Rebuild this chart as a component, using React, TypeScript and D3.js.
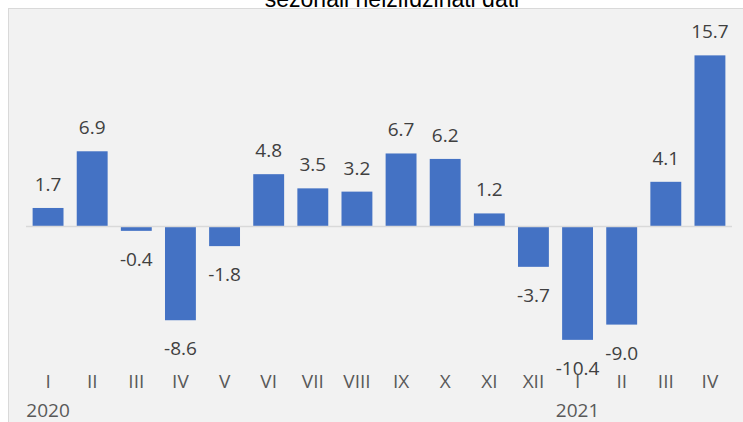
import { useEffect } from 'react';
import * as d3 from 'd3';

const months = ['I', 'II', 'III', 'IV', 'V', 'VI', 'VII', 'VIII', 'IX', 'X', 'XI', 'XII', 'I', 'II', 'III', 'IV'];
const values = [1.7, 6.9, -0.4, -8.6, -1.8, 4.8, 3.5, 3.2, 6.7, 6.2, 1.2, -3.7, -10.4, -9.0, 4.1, 15.7];
const years = [
  { label: '2020', index: 0 },
  { label: '2021', index: 12 },
];
const title = 'sezonāli neizlīdzināti dati';

const W = 743;
const H = 422;
const font = '"Open Sans", sans-serif';
const textColor = '#595959';

const App = () => {
  useEffect(() => {
    document.body.style.margin = '0';
  }, []);

  const x = d3.scaleBand<number>()
    .domain(values.map((_, i) => i))
    .range([26, 732])
    .paddingInner(0.3)
    .paddingOuter(0.15);

  const y = d3.scaleLinear()
    .domain([-12, 18])
    .range([357.3, 30.3]);

  const y0 = y(0);

  return (
    <svg width={W} height={H} style={{ display: 'block' }}>
      <rect x={0} y={0} width={W} height={H} fill="#ffffff" />
      <rect x={8.5} y={8.5} width={W} height={H} fill="#f2f2f2" stroke="#d9d9d9" strokeWidth={1} />
      <text x={392} y={6.5} textAnchor="middle" fontFamily='"Liberation Sans", Arial, sans-serif'
        fontSize={23} fill="#000">{title}</text>

      {values.map((v, i) => (
        <rect key={'b' + i}
          x={x(i)}
          y={Math.min(y(v), y0)}
          width={x.bandwidth()}
          height={Math.abs(y(v) - y0)}
          fill="#4472c4" />
      ))}

      <line x1={26} x2={732} y1={y0} y2={y0} stroke="#d9d9d9" strokeWidth={1.5} />

      {values.map((v, i) => (
        <text key={'v' + i}
          x={(x(i) ?? 0) + x.bandwidth() / 2}
          y={v >= 0 ? y(v) - 17 : y(v) + 35}
          textAnchor="middle" fontFamily={font} fontSize={19} fill="#404040">
          {v.toFixed(1)}
        </text>
      ))}

      {months.map((m, i) => (
        <text key={'m' + i}
          x={(x(i) ?? 0) + x.bandwidth() / 2}
          y={388}
          textAnchor="middle" fontFamily={font} fontSize={19} fill={textColor}>
          {m}
        </text>
      ))}

      {years.map(yr => (
        <text key={yr.label}
          x={(x(yr.index) ?? 0) + x.bandwidth() / 2}
          y={417}
          textAnchor="middle" fontFamily={font} fontSize={19} fill={textColor}>
          {yr.label}
        </text>
      ))}
    </svg>
  );
};

export default App;
